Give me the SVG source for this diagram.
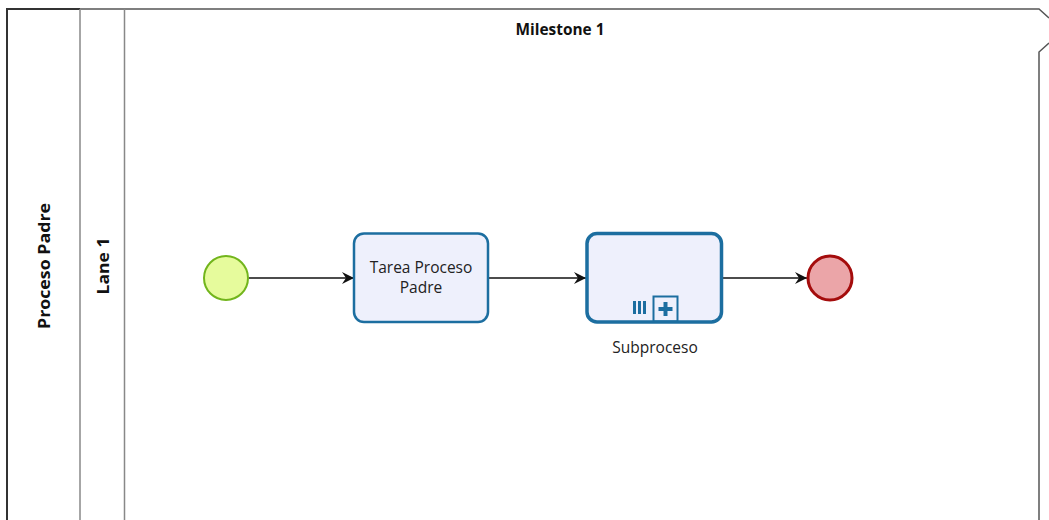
<svg xmlns="http://www.w3.org/2000/svg" width="1049" height="520" viewBox="0 0 1049 520">
<style>
  .lbl{font-family:"Open Sans","Noto Sans",sans-serif;font-size:15.5px;fill:#222;text-anchor:middle}
  .bold{font-family:"Open Sans","Noto Sans",sans-serif;font-weight:bold;font-size:16px;fill:#111;text-anchor:middle}
  .edge{stroke:#111;stroke-width:1.3;fill:none;marker-end:url(#arr)}
  .task{fill:#eef0fc;stroke:#1c6ea0}
</style>
<defs>
  <marker id="arr" viewBox="0 0 12 12" refX="12" refY="6" markerWidth="12" markerHeight="12" markerUnits="userSpaceOnUse" orient="auto">
    <path d="M0,0 L12,6 L0,12 L4,6 Z" fill="#111"/>
  </marker>
</defs>
<rect width="1049" height="520" fill="#fff"/>
<g id="pool">
  <path d="M7,520 L7,9 L1039,9 L1049,18 M1049,43 L1039,52 L1039,520" fill="none" stroke="#555" stroke-width="1.5"/>
  <path d="M7,520 L7,9 L80,9" fill="none" stroke="#333" stroke-width="2"/>
  <line x1="80" y1="9" x2="80" y2="520" stroke="#888" stroke-width="1.5"/>
  <text class="bold" transform="translate(50,266) rotate(-90)" textLength="126" lengthAdjust="spacingAndGlyphs">Proceso Padre</text>
</g>
<g id="lane">
  <line x1="124.5" y1="9" x2="124.5" y2="520" stroke="#888" stroke-width="1.5"/>
  <text class="bold" transform="translate(109,266) rotate(-90)" textLength="57" lengthAdjust="spacingAndGlyphs">Lane 1</text>
</g>
<g id="milestone">
  <text class="bold" x="560" y="35" font-size="14.5" textLength="89" lengthAdjust="spacingAndGlyphs">Milestone 1</text>
</g>
<g id="connectors">
  <line class="edge" x1="249" y1="278" x2="354" y2="278"/>
  <line class="edge" x1="488" y1="278" x2="586" y2="278"/>
  <line class="edge" x1="723" y1="278" x2="807" y2="278"/>
</g>
<g id="start">
  <circle cx="226" cy="278" r="22" fill="#e6fb9c" stroke="#72b51c" stroke-width="2"/>
</g>
<g id="task">
  <rect class="task" x="354" y="233.5" width="134" height="88.5" rx="10" stroke-width="2.5"/>
  <text class="lbl" x="421" y="273">Tarea Proceso</text>
  <text class="lbl" x="421" y="293">Padre</text>
</g>
<g id="subprocess">
  <rect class="task" x="587" y="233.5" width="134.5" height="88.5" rx="10" stroke-width="3.5"/>
  <g fill="#1c6ea0">
    <rect x="633" y="301" width="3" height="13"/>
    <rect x="638" y="301" width="3" height="13"/>
    <rect x="643" y="301" width="3" height="13"/>
  </g>
  <rect x="653.5" y="296.5" width="24" height="25" fill="none" stroke="#1c6ea0" stroke-width="2"/>
  <path d="M665.5,302 v14 M658.5,309 h14" stroke="#1c6ea0" stroke-width="4"/>
  <text class="lbl" x="655" y="353">Subproceso</text>
</g>
<g id="end">
  <circle cx="830" cy="278" r="22" fill="#eba5a8" stroke="#a40c0c" stroke-width="3"/>
</g>
</svg>
